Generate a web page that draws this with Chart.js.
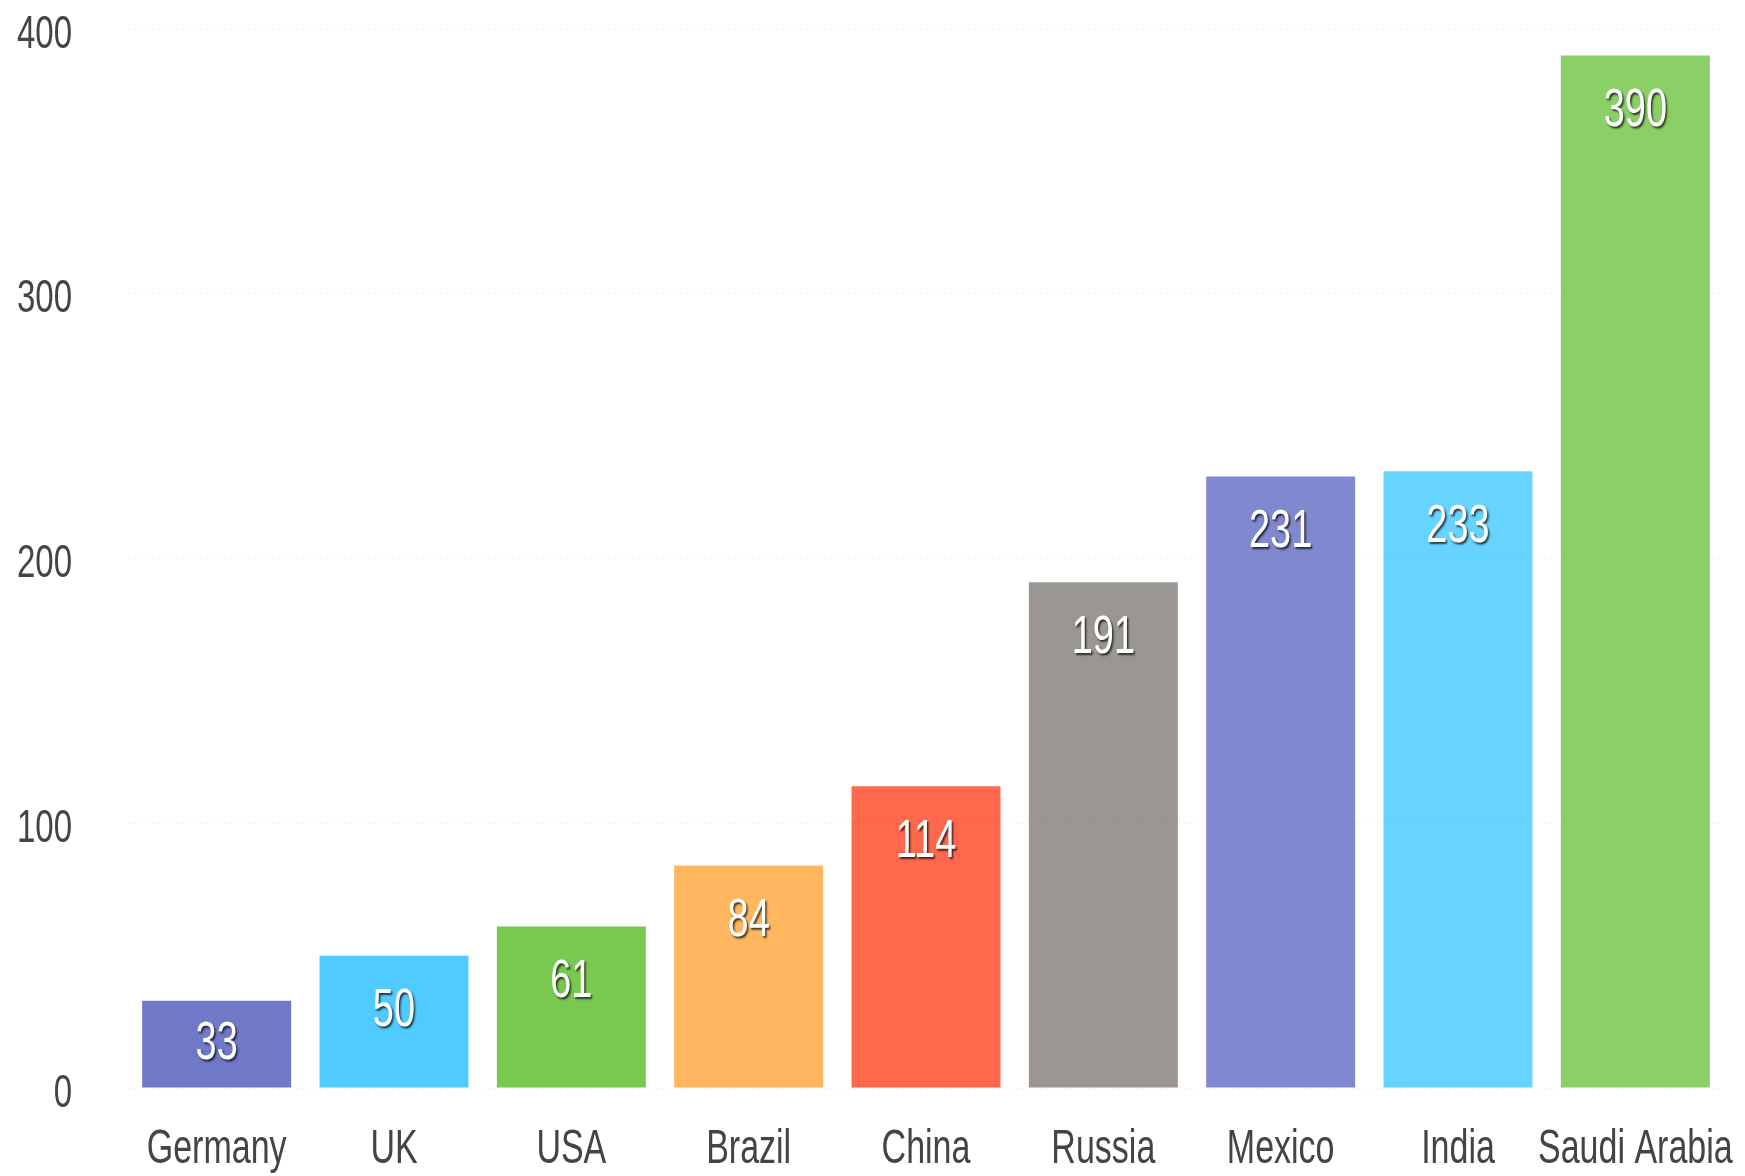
<!DOCTYPE html>
<html>
<head>
<meta charset="utf-8">
<script src="https://cdn.jsdelivr.net/npm/chart.js@4/dist/chart.umd.min.js"></script>
<style>
    body { margin: 0; background: #fff; }
    canvas { display: block; }
</style>
</head>
<body>
<canvas id="barChart" width="1745" height="1176"></canvas>
<script>
const categories = ['Germany', 'UK', 'USA', 'Brazil', 'China', 'Russia', 'Mexico', 'India', 'Saudi Arabia'];
const values = [33, 50, 61, 84, 114, 191, 231, 233, 390];
const barColors = ['#7079C8', '#4FCBFF', '#79C850', '#FFB65E', '#FF684C', '#9A9792', '#8088D0', '#66D4FF', '#8AD066'];
const yTicks = [0, 100, 200, 300, 400];

const FONT = "'Liberation Sans', Arial, sans-serif";

// text in the original is stretched vertically, so draw it by hand with a y scale
function drawStretched(ctx, text, x, y, size, color, align, shadow) {
    ctx.save();
    ctx.translate(x, y);
    ctx.scale(1, 1.4);
    ctx.font = `${size}px ${FONT}`;
    ctx.textAlign = align;
    ctx.textBaseline = 'middle';
    if (shadow) {
        ctx.shadowColor = 'rgba(0, 0, 0, 0.7)';
        ctx.shadowOffsetX = 1.5;
        ctx.shadowOffsetY = 2;
        ctx.shadowBlur = 2;
    }
    ctx.fillStyle = color;
    ctx.fillText(text, 0, 0);
    ctx.restore();
}

const labelPlugin = {
    id: 'labelPlugin',
    afterDraw(chart) {
        const ctx = chart.ctx;
        const xScale = chart.scales.x;
        const yScale = chart.scales.y;

        // y axis labels
        yTicks.forEach(t => {
            drawStretched(ctx, String(t), 72, yScale.getPixelForValue(t) + 6, 33, '#444', 'right', false);
        });

        // x axis labels
        categories.forEach((c, i) => {
            drawStretched(ctx, c, xScale.getPixelForValue(i), 1150, 34, '#444', 'center', false);
        });

        // values inside the bars
        const meta = chart.getDatasetMeta(0);
        meta.data.forEach((bar, i) => {
            const y = Math.min(bar.y + 56, (bar.y + bar.base) / 2);
            drawStretched(ctx, String(values[i]), bar.x, y, 38, '#fff', 'center', true);
        });
    }
};

document.addEventListener('DOMContentLoaded', function () {
    const ctx = document.getElementById('barChart').getContext('2d');

    new Chart(ctx, {
        type: 'bar',
        data: {
            labels: categories,
            datasets: [{
                data: values,
                backgroundColor: barColors,
                barPercentage: 0.84,
                categoryPercentage: 1
            }]
        },
        options: {
            responsive: false,
            animation: false,
            layout: {
                padding: { top: 29, right: 21, left: 0, bottom: 0 }
            },
            plugins: {
                legend: { display: false },
                tooltip: { enabled: false }
            },
            scales: {
                x: {
                    grid: { display: false },
                    border: { display: false },
                    ticks: { display: false },
                    afterFit: s => { s.height = 88; }
                },
                y: {
                    min: 0,
                    max: 400,
                    ticks: { display: false, stepSize: 100 },
                    grid: { color: 'rgba(0, 0, 0, 0.05)', z: 1, drawTicks: false },
                    border: { display: false, dash: [2, 4] },
                    afterFit: s => { s.width = 128; }
                }
            }
        },
        plugins: [labelPlugin]
    });
});
</script>
</body>
</html>
